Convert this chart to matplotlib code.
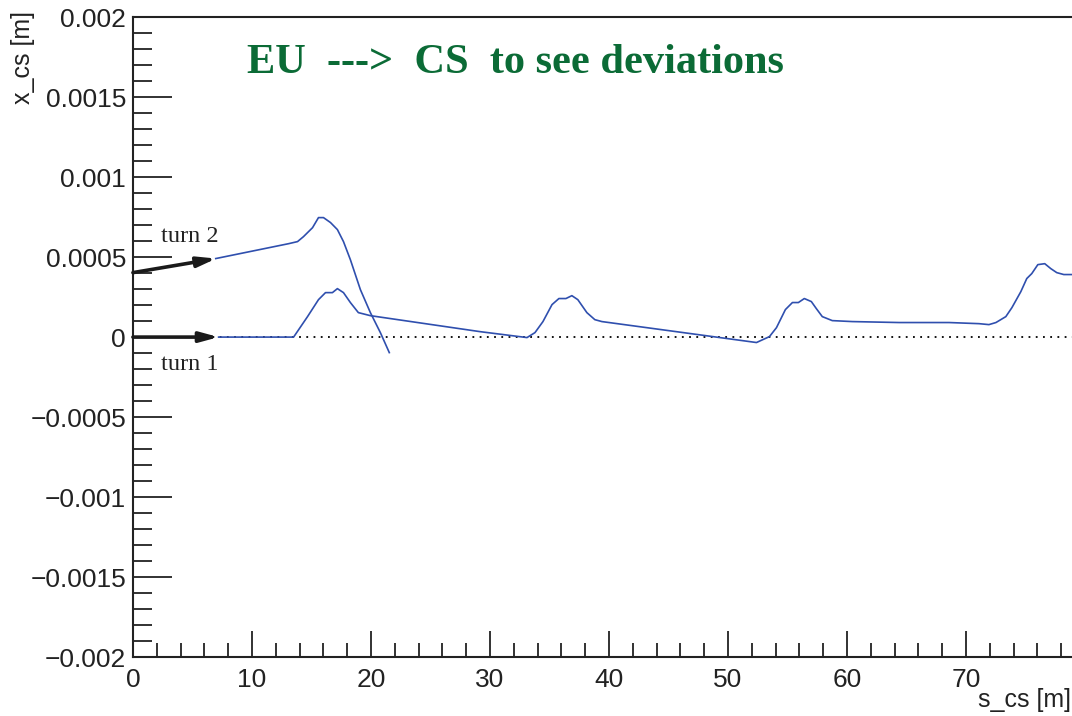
import numpy as np
import matplotlib
matplotlib.use("Agg")
import matplotlib.pyplot as plt
from matplotlib.ticker import MultipleLocator

# turn 1 orbit (s in m, x in m)
s_turn1 = [7.2, 13.5, 14.67, 15.59, 16.18, 16.76, 17.18, 17.69, 18.27, 18.94, 19.95,
           29.17, 33.11, 33.78, 34.45, 35.21, 35.79, 36.38, 36.88, 37.38, 38.14, 38.81,
           39.40, 52.39, 53.48, 54.07, 54.82, 55.41, 55.91, 56.41, 57.00, 57.42, 57.92,
           58.76, 60.44, 64.38, 68.57, 71.08, 71.92, 72.51, 73.34, 73.85, 74.60, 75.10,
           75.52, 76.03, 76.61, 77.12, 77.62, 78.21, 78.9]
x_turn1 = [0.0, 0.0, 0.000128, 0.000234, 0.000278, 0.000278, 0.000303, 0.000278,
           0.000216, 0.000153, 0.000134, 0.000034, -0.000003, 0.000028, 0.000097,
           0.000203, 0.000241, 0.000241, 0.000259, 0.000234, 0.000153, 0.000109,
           0.000097, -0.000034, 0.000003, 0.000059, 0.000172, 0.000216, 0.000216,
           0.000241, 0.000222, 0.000178, 0.000128, 0.000103, 0.000097, 0.000091,
           0.000091, 0.000084, 0.000078, 0.000091, 0.000128, 0.000184, 0.000284,
           0.000366, 0.000397, 0.000453, 0.000459, 0.000428, 0.000403, 0.000391,
           0.000391]

# turn 2 orbit
s_turn2 = [6.96, 13.08, 13.83, 14.33, 15.09, 15.59, 16.01, 16.60, 17.18, 17.69,
           18.27, 19.11, 19.95, 20.79, 21.54]
x_turn2 = [0.000491, 0.000584, 0.000597, 0.000628, 0.000684, 0.000747, 0.000747,
           0.000716, 0.000672, 0.000597, 0.000484, 0.000297, 0.000153, 0.000028,
           -0.000097]

# injection arrows: (start, end)
arrow_turn1 = ((0.0, 0.0), (7.2, 0.0))
arrow_turn2 = ((0.0, 0.000403), (7.0, 0.000491))

y_ticks = [-0.002, -0.0015, -0.001, -0.0005, 0, 0.0005, 0.001, 0.0015, 0.002]
y_tick_labels = ["\u22120.002", "\u22120.0015", "\u22120.001", "\u22120.0005", "0",
                 "0.0005", "0.001", "0.0015", "0.002"]

plt.rcParams['font.family'] = ['Liberation Sans', 'DejaVu Sans']

fig = plt.figure(figsize=(10.72, 7.16), dpi=100)
ax = fig.add_axes([0.124, 0.0824, 0.876, 0.8936])

ax.axhline(0, color='black', linestyle=(0, (1, 3)), linewidth=1.3, zorder=1)
ax.plot(s_turn1, x_turn1, color='#2f4fae', linewidth=1.2, zorder=2)
ax.plot(s_turn2, x_turn2, color='#2f4fae', linewidth=1.2, zorder=2)

for (x0, y0), (x1, y1) in (arrow_turn1, arrow_turn2):
    ax.annotate('', xy=(x1, y1), xytext=(x0, y0),
                arrowprops=dict(arrowstyle='-|>,head_length=1.1,head_width=0.3',
                                color='#1a1a1a', lw=2.6, shrinkA=0, shrinkB=0),
                zorder=3)

ax.text(2.35, 0.000592, 'turn 2', family='Liberation Serif', fontsize=17.5,
        color='#222222', va='baseline')
ax.text(2.35, -0.000205, 'turn 1', family='Liberation Serif', fontsize=17.5,
        color='#222222', va='baseline')
ax.text(9.6, 0.001653, 'EU  --->  CS  to see deviations', family='Liberation Serif',
        fontsize=30.5, fontweight='bold', color='#0b6b36', va='baseline')

ax.set_xlim(0, 78.9)
ax.set_ylim(-0.002, 0.002)
ax.xaxis.set_major_locator(MultipleLocator(10))
ax.xaxis.set_minor_locator(MultipleLocator(2))
ax.set_yticks(y_ticks)
ax.set_yticklabels(y_tick_labels)
ax.yaxis.set_minor_locator(MultipleLocator(0.0001))

ax.tick_params(which='both', direction='in', colors='#222222', labelsize=19, width=1.3)
ax.tick_params(axis='y', which='major', length=28, pad=5)
ax.tick_params(axis='y', which='minor', length=14)
ax.tick_params(axis='x', which='major', length=19, pad=8)
ax.tick_params(axis='x', which='minor', length=10)
for side in ('left', 'bottom', 'top'):
    ax.spines[side].set_linewidth(1.5)
    ax.spines[side].set_color('#222222')
ax.spines['right'].set_visible(False)

fig.text(0.021, 0.985, 'x_cs [m]', rotation=90, ha='center', va='top', fontsize=18,
         color='#222222')
fig.text(0.999, 0.005, 's_cs [m]', ha='right', va='bottom', fontsize=18, color='#222222')

fig.savefig('out.png', dpi=100)
